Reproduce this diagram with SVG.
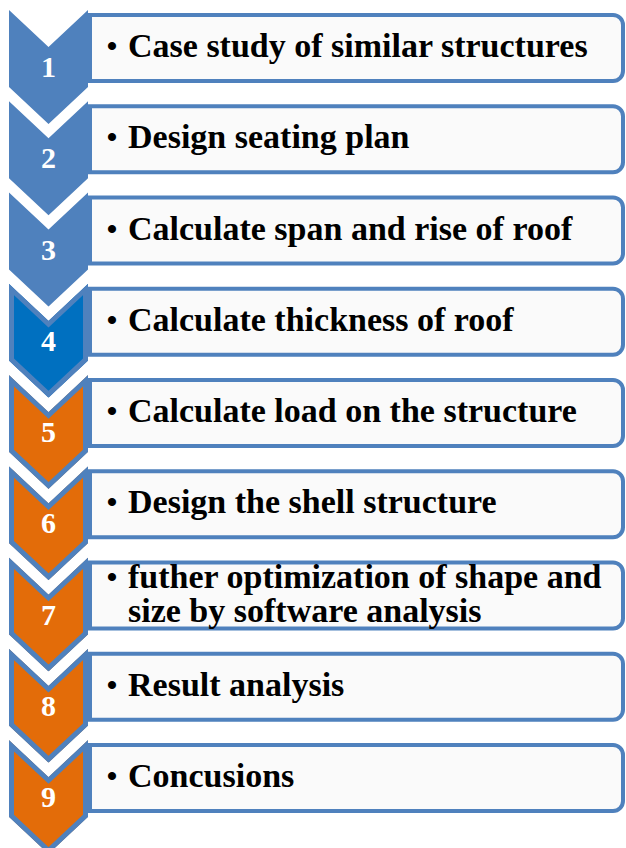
<svg xmlns="http://www.w3.org/2000/svg" xmlns:xlink="http://www.w3.org/1999/xlink" width="626" height="848" viewBox="0 0 626 848">
  <style>
    .box { fill: #FAFAFA; stroke: #4F81BD; stroke-width: 4; }
    .chev-plain { fill: #4F81BD; }
    .chev-dark { fill: #0070C0; stroke: #4F81BD; stroke-width: 10; }
    .chev-orange { fill: #E36C09; stroke: #4F81BD; stroke-width: 10; }
    .num { font-family: "Liberation Serif", "Times New Roman", serif; font-weight: bold; font-size: 30px; fill: #FFFFFF; text-anchor: middle; }
    .label { font-family: "Liberation Serif", "Times New Roman", serif; font-weight: bold; font-size: 34px; fill: #000000; }
    .bullet { font-family: "Liberation Serif", "Times New Roman", serif; font-weight: bold; font-size: 30px; fill: #000000; text-anchor: middle; }
  </style>
  <defs>
    <!-- step chevron, drawn at the origin and placed by each step's transform -->
    <polygon id="chev" points="9,0 48.5,37 88,0 88,77 48.5,114 9,77"/>
    <!-- text panel with square left corners and rounded right corners -->
    <path id="panel" d="M90,5 H613 A10,10 0 0 1 623,15 V61 A10,10 0 0 1 613,71 H90 Z"/>
    <!-- keeps the chevron outline inside the shape -->
    <clipPath id="chevClip">
      <use xlink:href="#chev"/>
    </clipPath>
  </defs>
  <rect width="626" height="848" fill="#FFFFFF"/>

  <g id="step1" transform="translate(0,10)">
    <use xlink:href="#panel" class="box"/>
    <use xlink:href="#chev" class="chev-plain"/>
    <text class="num" x="48.5" y="67">1</text>
    <text class="bullet" x="112" y="46">•</text>
    <text class="label" x="128" y="47">Case study of similar structures</text>
  </g>

  <g id="step2" transform="translate(0,101.25)">
    <use xlink:href="#panel" class="box"/>
    <use xlink:href="#chev" class="chev-plain"/>
    <text class="num" x="48.5" y="67">2</text>
    <text class="bullet" x="112" y="46">•</text>
    <text class="label" x="128" y="47">Design seating plan</text>
  </g>

  <g id="step3" transform="translate(0,192.5)">
    <use xlink:href="#panel" class="box"/>
    <use xlink:href="#chev" class="chev-plain"/>
    <text class="num" x="48.5" y="67">3</text>
    <text class="bullet" x="112" y="46">•</text>
    <text class="label" x="128" y="47">Calculate span and rise of roof</text>
  </g>

  <g id="step4" transform="translate(0,283.75)">
    <use xlink:href="#panel" class="box"/>
    <use xlink:href="#chev" class="chev-dark" clip-path="url(#chevClip)"/>
    <text class="num" x="48.5" y="67">4</text>
    <text class="bullet" x="112" y="46">•</text>
    <text class="label" x="128" y="47">Calculate thickness of roof</text>
  </g>

  <g id="step5" transform="translate(0,375)">
    <use xlink:href="#panel" class="box"/>
    <use xlink:href="#chev" class="chev-orange" clip-path="url(#chevClip)"/>
    <text class="num" x="48.5" y="67">5</text>
    <text class="bullet" x="112" y="46">•</text>
    <text class="label" x="128" y="47">Calculate load on the structure</text>
  </g>

  <g id="step6" transform="translate(0,466.25)">
    <use xlink:href="#panel" class="box"/>
    <use xlink:href="#chev" class="chev-orange" clip-path="url(#chevClip)"/>
    <text class="num" x="48.5" y="67">6</text>
    <text class="bullet" x="112" y="46">•</text>
    <text class="label" x="128" y="47">Design the shell structure</text>
  </g>

  <g id="step7" transform="translate(0,557.5)">
    <use xlink:href="#panel" class="box"/>
    <use xlink:href="#chev" class="chev-orange" clip-path="url(#chevClip)"/>
    <text class="num" x="48.5" y="67">7</text>
    <text class="bullet" x="112" y="29.5">•</text>
    <text class="label" x="128" y="30.5">futher optimization of shape and</text>
    <text class="label" x="128" y="64.5">size by software analysis</text>
  </g>

  <g id="step8" transform="translate(0,648.75)">
    <use xlink:href="#panel" class="box"/>
    <use xlink:href="#chev" class="chev-orange" clip-path="url(#chevClip)"/>
    <text class="num" x="48.5" y="67">8</text>
    <text class="bullet" x="112" y="46">•</text>
    <text class="label" x="128" y="47">Result analysis</text>
  </g>

  <g id="step9" transform="translate(0,740)">
    <use xlink:href="#panel" class="box"/>
    <use xlink:href="#chev" class="chev-orange" clip-path="url(#chevClip)"/>
    <text class="num" x="48.5" y="67">9</text>
    <text class="bullet" x="112" y="46">•</text>
    <text class="label" x="128" y="47">Concusions</text>
  </g>
</svg>
